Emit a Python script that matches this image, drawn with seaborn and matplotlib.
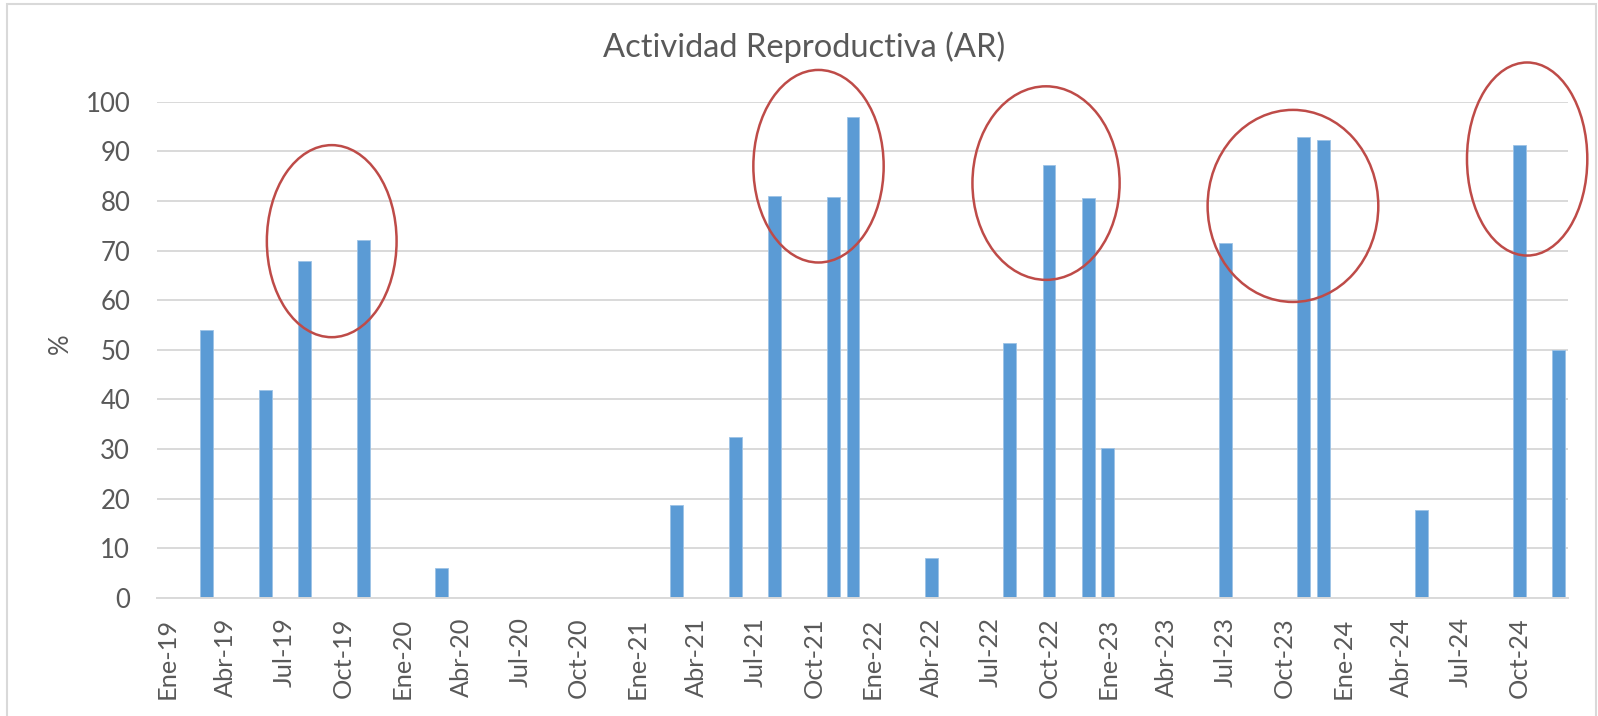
import matplotlib
matplotlib.use("Agg")
import matplotlib.pyplot as plt
import pandas as pd
import seaborn as sns
from matplotlib.patches import Ellipse, Rectangle

# Monthly reproductive activity (%) – only months with sampling
meses = ["Mar-19", "Jun-19", "Ago-19", "Nov-19", "Mar-20",
         "Mar-21", "Jun-21", "Ago-21", "Nov-21", "Dic-21",
         "Abr-22", "Ago-22", "Oct-22", "Dic-22", "Ene-23",
         "Jul-23", "Nov-23", "Dic-23", "May-24", "Oct-24", "Dic-24"]
valores = [54.0, 41.9, 68.0, 72.1, 6.0,
           18.8, 32.5, 81.1, 80.8, 96.9,
           8.0, 51.3, 87.3, 80.6, 30.2,
           71.5, 92.8, 92.3, 17.7, 91.2, 50.0]

# Full monthly calendar used as the category axis
abrev = ["Ene", "Feb", "Mar", "Abr", "May", "Jun",
         "Jul", "Ago", "Sep", "Oct", "Nov", "Dic"]
calendario = [f"{m}-{a:02d}" for a in range(19, 25) for m in abrev]
etiquetas_x = calendario[::3]

# Highlight ellipses (center month index, center %, width in months, height in %)
resaltes = [
    (8.4, 71.9, 6.62, 38.7),
    (33.24, 87.0, 6.65, 38.8),
    (44.85, 83.6, 7.51, 39.0),
    (57.45, 79.0, 8.71, 38.7),
    (69.4, 88.45, 6.14, 38.9),
]

AZUL = "#5B9BD5"
GRIS_TXT = "#595959"
GRIS_LIN = "#D9D9D9"
ROJO = "#BE4B48"

sns.set_theme(style="white")
plt.rcParams["font.family"] = ["Lato", "DejaVu Sans"]

W, H = 1598, 716
fig = plt.figure(figsize=(W / 100, H / 100), dpi=100)
ax = fig.add_axes([157.3 / W, 1 - 598 / H, (1568.3 - 157.3) / W, (598 - 101.7) / H])

df = pd.DataFrame({"mes": meses, "ar": valores})
sns.barplot(data=df, x="mes", y="ar", order=calendario, color=AZUL,
            saturation=1, width=0.66, errorbar=None, ax=ax,
            edgecolor="#9DC3E6", linewidth=0.6)

ax.set_xlim(-0.5, 71.5)
ax.set_ylim(0, 100)
ax.set_yticks(range(0, 101, 10))
ax.set_xticks(range(0, 72, 3))
ax.set_xticklabels(etiquetas_x, rotation=90)
ax.yaxis.grid(True, color=GRIS_LIN, linewidth=1.4)
ax.xaxis.grid(False)
ax.set_axisbelow(True)

for lado in ("top", "right", "left"):
    ax.spines[lado].set_visible(False)
ax.spines["bottom"].set_color(GRIS_LIN)
ax.spines["bottom"].set_linewidth(1.4)

ax.tick_params(axis="y", length=0, pad=19.5, labelsize=18.5, labelcolor=GRIS_TXT)
ax.tick_params(axis="x", length=0, pad=14, labelsize=18.3, labelcolor=GRIS_TXT)

ax.set_xlabel("")
ax.set_ylabel("%", fontsize=18.5, color=GRIS_TXT, va="center")
ax.yaxis.set_label_coords(-0.069, 0.513)

ax.set_title("")
fig.text(804 / W, 1 - 46.7 / H, "Actividad Reproductiva (AR)",
         ha="center", va="center", fontsize=23.5, color=GRIS_TXT)

for cx, cy, ew, eh in resaltes:
    ax.add_patch(Ellipse((cx, cy), ew, eh, fill=False, edgecolor=ROJO,
                         linewidth=1.8, clip_on=False, zorder=5))

# Chart-area frame
fig.patches.append(Rectangle((7 / W, -0.01), (1596 - 7) / W, 1.01 - 4 / H,
                             transform=fig.transFigure, fill=False,
                             edgecolor=GRIS_LIN, linewidth=1.5))

fig.savefig("out.png", dpi=100)
